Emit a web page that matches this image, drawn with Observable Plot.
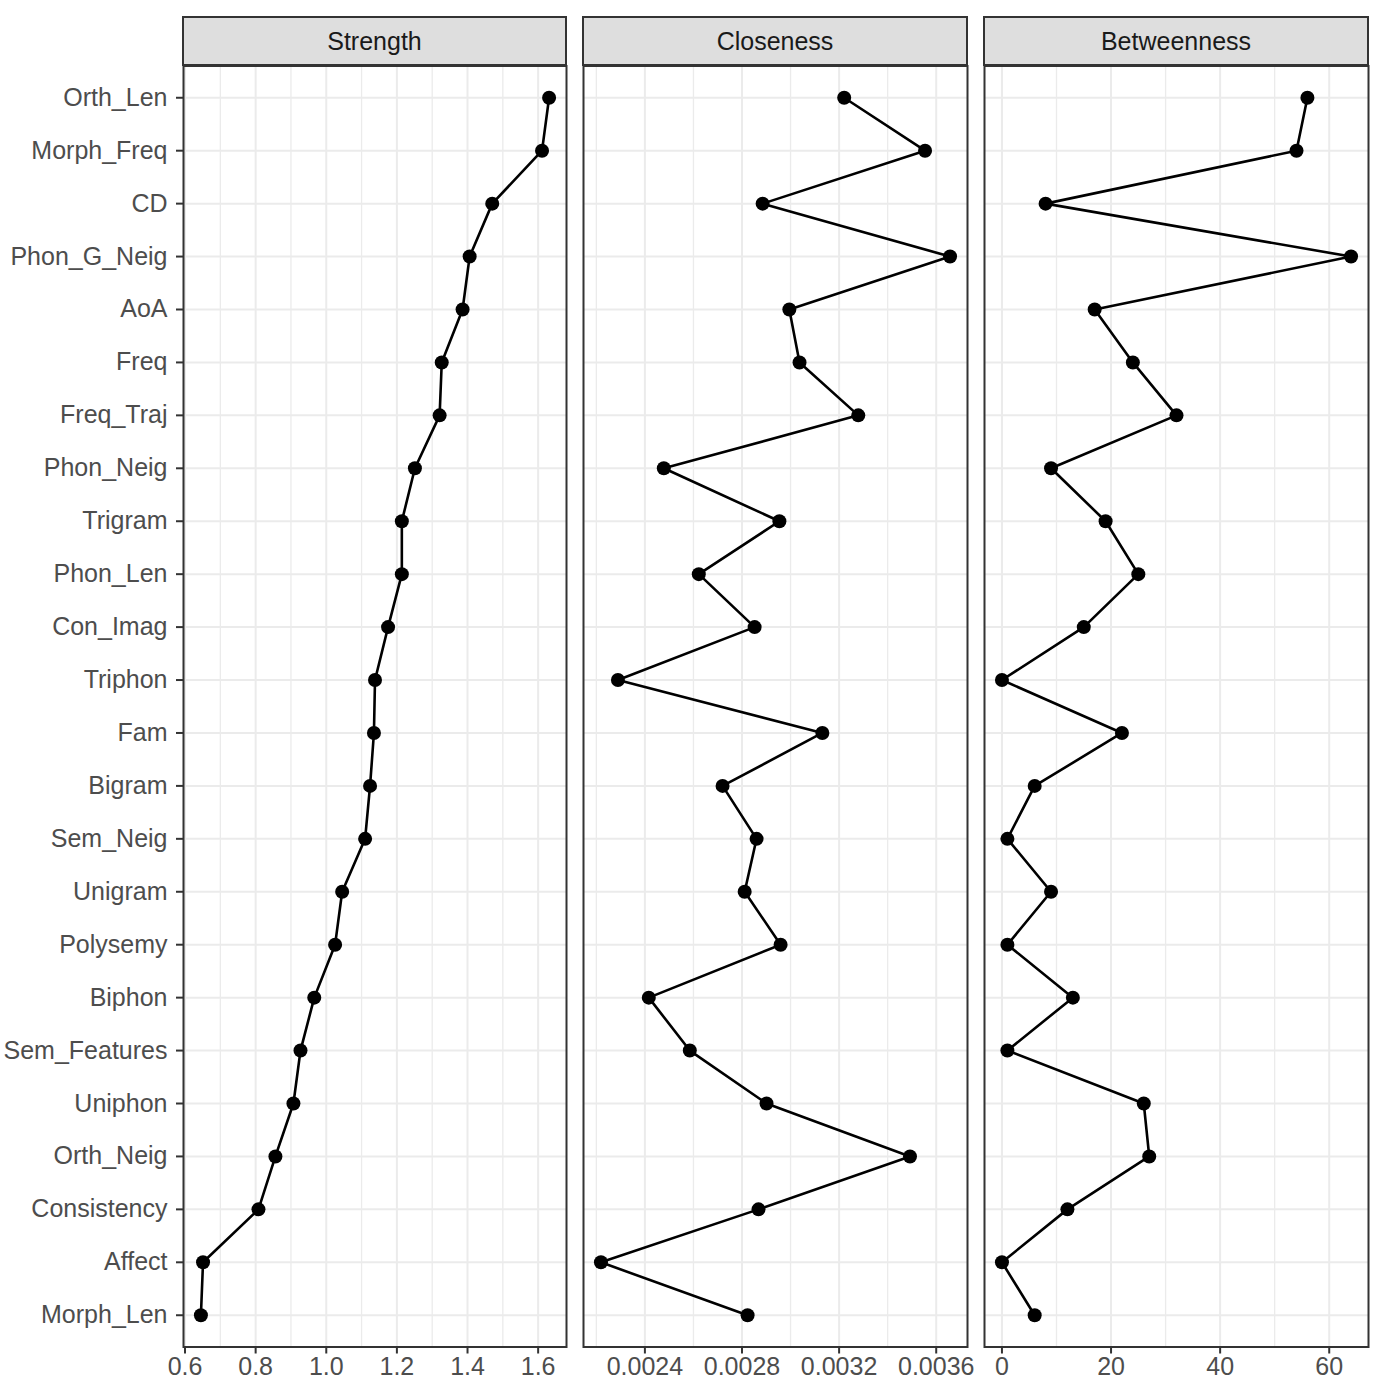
<!DOCTYPE html>
<html>
<head>
<meta charset="utf-8">
<script src="https://cdn.jsdelivr.net/npm/d3@7"></script>
<script src="https://cdn.jsdelivr.net/npm/@observablehq/plot@0.6"></script>
<style>
  html, body { margin: 0; padding: 0; background: #fff; }
  #chart { position: relative; width: 1383px; height: 1379px; overflow: hidden;
    font-family: "Liberation Sans", Arial, sans-serif; }
  .panel { position: absolute; top: 0; }
  .panel svg { overflow: visible; }
  .strip { position: absolute; top: 16px; height: 50px; box-sizing: border-box;
    border: 2px solid #333; background: #dedede; color: #1a1a1a;
    font-size: 25px; display: flex; align-items: center; justify-content: center; }
</style>
</head>
<body>
<div id="chart"></div>
<script>
const categories = ["Orth_Len","Morph_Freq","CD","Phon_G_Neig","AoA","Freq","Freq_Traj","Phon_Neig",
  "Trigram","Phon_Len","Con_Imag","Triphon","Fam","Bigram","Sem_Neig","Unigram","Polysemy",
  "Biphon","Sem_Features","Uniphon","Orth_Neig","Consistency","Affect","Morph_Len"];

const strength = [1.631,1.611,1.470,1.406,1.386,1.327,1.321,1.251,1.214,1.214,1.175,1.138,1.135,
  1.124,1.110,1.045,1.025,0.966,0.927,0.907,0.856,0.808,0.651,0.645];

const closeness = [0.003221,0.003554,0.002885,0.003657,0.002995,0.003037,0.003279,0.002478,
  0.002954,0.002622,0.002852,0.002289,0.003131,0.002720,0.002860,0.002811,0.002959,0.002416,
  0.002585,0.002901,0.003492,0.002868,0.002219,0.002823];

const betweenness = [56,54,8,64,17,24,32,9,19,25,15,0,22,6,1,9,1,13,1,26,27,12,0,6];

const panelTitles = ["Strength","Closeness","Betweenness"];
const strengthTicks = [0.6,0.8,1.0,1.2,1.4,1.6];
const strengthMinor = [0.7,0.9,1.1,1.3,1.5];
const closenessTicks = [0.0024,0.0028,0.0032,0.0036];
const closenessMinor = [0.0022,0.0026,0.0030,0.0034];
const betweennessTicks = [0,20,40,60];
const betweennessMinor = [10,30,50];

const FONT = "\"Liberation Sans\", Arial, sans-serif";
const H = 1379;
const TOP = 65.5, BOTTOM = 1346.5;

const panels = [
  {title: panelTitles[0], values: strength, ticks: strengthTicks, minor: strengthMinor, fmt: d3.format(".1f"),
   left: 0, width: 575, mL: 183, mR: 9, yAxis: true},
  {title: panelTitles[1], values: closeness, ticks: closenessTicks, minor: closenessMinor, fmt: d3.format(".4f"),
   left: 575, width: 400, mL: 8, mR: 8, yAxis: false},
  {title: panelTitles[2], values: betweenness, ticks: betweennessTicks, minor: betweennessMinor, fmt: d3.format("d"),
   left: 975, width: 408, mL: 9, mR: 15, yAxis: false}
];

const chart = document.getElementById("chart");

for (const p of panels) {
  const data = categories.map((c, i) => ({name: c, value: p.values[i]}));
  const [lo, hi] = d3.extent(p.values);
  const pad = (hi - lo) * 0.05;
  const marks = [
    Plot.gridX(p.minor, {stroke: "#ebebeb", strokeOpacity: 1, strokeWidth: 1.3}),
    Plot.gridX(p.ticks, {stroke: "#ebebeb", strokeOpacity: 1, strokeWidth: 2}),
    Plot.gridY(categories, {stroke: "#ebebeb", strokeOpacity: 1, strokeWidth: 2}),
    Plot.line(data, {x: "value", y: "name", stroke: "black", strokeWidth: 2.6}),
    Plot.dot(data, {x: "value", y: "name", r: 7, fill: "black", stroke: "none"}),
    Plot.frame({stroke: "#333", strokeWidth: 2}),
    Plot.axisX(p.ticks, {tickFormat: p.fmt, tickSize: 7, tickPadding: 3.5, fontSize: 25,
      stroke: "#333", strokeWidth: 2, fill: "#4d4d4d"})
  ];
  if (p.yAxis) {
    marks.push(Plot.axisY({tickSize: 7, tickPadding: 9, fontSize: 25,
      stroke: "#333", strokeWidth: 2, fill: "#4d4d4d"}));
  } else {
    marks.push(Plot.axisY({ticks: [], label: null}));
  }
  const svg = Plot.plot({
    width: p.width,
    height: H,
    marginTop: TOP,
    marginBottom: H - BOTTOM,
    marginLeft: p.mL,
    marginRight: p.mR,
    style: {fontFamily: FONT, background: "transparent", overflow: "visible"},
    x: {domain: [lo - pad, hi + pad], label: null},
    y: {type: "point", domain: categories, padding: 0.6, round: false, label: null},
    marks
  });
  const wrap = document.createElement("div");
  wrap.className = "panel";
  wrap.style.left = p.left + "px";
  wrap.appendChild(svg);
  chart.appendChild(wrap);

  const strip = document.createElement("div");
  strip.className = "strip";
  strip.style.left = (p.left + p.mL - 1) + "px";
  strip.style.width = (p.width - p.mL - p.mR + 2) + "px";
  strip.textContent = p.title;
  chart.appendChild(strip);
}
</script>
</body>
</html>
